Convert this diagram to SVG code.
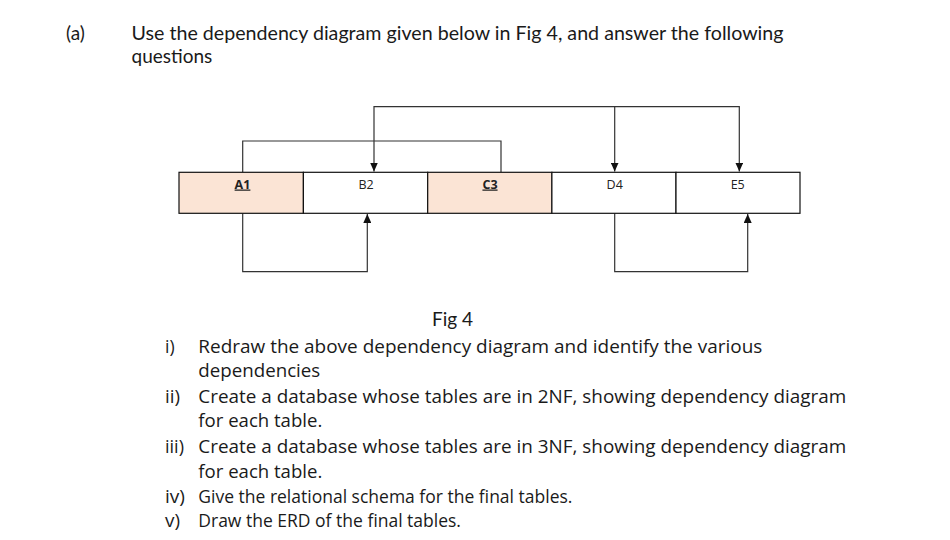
<svg xmlns="http://www.w3.org/2000/svg" width="950" height="540" viewBox="0 0 950 540">
<style>
.hd{font-family:Lato,"Liberation Sans",sans-serif;font-size:19px;fill:#1a1a1a}
.li{font-family:"Open Sans","Liberation Sans",sans-serif;font-size:17.5px;fill:#1a1a1a}
.bx{stroke:#111;stroke-width:1.2}
.pk{fill:#fbe4d5}
.wt{fill:#fff}
.lb{font-family:"Open Sans","Liberation Sans",sans-serif;font-size:12.5px;fill:#222;text-anchor:middle}
.key{font-weight:bold;text-decoration:underline}
.cn{fill:none;stroke:#333;stroke-width:1.2}
</style>
<defs>
<marker id="ah" markerUnits="userSpaceOnUse" markerWidth="9" markerHeight="8" refX="9" refY="4" orient="auto-start-reverse">
<path d="M0,0 L9,4 L0,8 z" fill="#111"/>
</marker>
</defs>
<rect width="950" height="540" fill="#fff"/>
<text class="hd" x="66" y="40">(a)</text>
<text class="hd" x="131.5" y="40" textLength="652" lengthAdjust="spacingAndGlyphs">Use the dependency diagram given below in Fig 4, and answer the following</text>
<text class="hd" x="131.5" y="63">questions</text>

<g id="connectors">
<path class="cn" d="M242.7,172.3 V141 H501 V172.3"/>
<path class="cn" d="M374,171.5 V106.7 H739.3 V171.5" marker-start="url(#ah)" marker-end="url(#ah)"/>
<path class="cn" d="M614.7,106.7 V171.5" marker-end="url(#ah)"/>
<path class="cn" d="M242.7,213.3 V271.7 H367.3 V214" marker-end="url(#ah)"/>
<path class="cn" d="M614.7,213.3 V271.7 H747.7 V214" marker-end="url(#ah)"/>
</g>

<g id="A1"><rect class="bx pk" x="179" y="172.3" width="124.4" height="41"/><text class="lb key" x="242.5" y="188.5">A1</text></g>
<g id="B2"><rect class="bx wt" x="303.4" y="172.3" width="124.3" height="41"/><text class="lb" x="366" y="188.5">B2</text></g>
<g id="C3"><rect class="bx pk" x="427.7" y="172.3" width="124.2" height="41"/><text class="lb key" x="490" y="188.5">C3</text></g>
<g id="D4"><rect class="bx wt" x="551.9" y="172.3" width="124.1" height="41"/><text class="lb" x="614.7" y="188.5">D4</text></g>
<g id="E5"><rect class="bx wt" x="676" y="172.3" width="124" height="41"/><text class="lb" x="737.7" y="188.5">E5</text></g>

<text class="hd" x="432" y="326" font-size="18">Fig 4</text>

<text class="li" x="165" y="353">i)</text>
<text class="li" x="198.3" y="353" textLength="564" lengthAdjust="spacingAndGlyphs">Redraw the above dependency diagram and identify the various</text>
<text class="li" x="198.3" y="377" textLength="122" lengthAdjust="spacingAndGlyphs">dependencies</text>
<text class="li" x="165" y="403" textLength="15" lengthAdjust="spacingAndGlyphs">ii)</text>
<text class="li" x="198.3" y="403" textLength="648" lengthAdjust="spacingAndGlyphs">Create a database whose tables are in 2NF, showing dependency diagram</text>
<text class="li" x="198.3" y="427" textLength="124" lengthAdjust="spacingAndGlyphs">for each table.</text>
<text class="li" x="165" y="453" textLength="19" lengthAdjust="spacingAndGlyphs">iii)</text>
<text class="li" x="198.3" y="453" textLength="648" lengthAdjust="spacingAndGlyphs">Create a database whose tables are in 3NF, showing dependency diagram</text>
<text class="li" x="198.3" y="478" textLength="124" lengthAdjust="spacingAndGlyphs">for each table.</text>
<text class="li" x="165" y="503" textLength="20" lengthAdjust="spacingAndGlyphs">iv)</text>
<text class="li" x="198.3" y="503">Give the relational schema for the final tables.</text>
<text class="li" x="165" y="527" textLength="15" lengthAdjust="spacingAndGlyphs">v)</text>
<text class="li" x="198.3" y="527">Draw the ERD of the final tables.</text>
</svg>
